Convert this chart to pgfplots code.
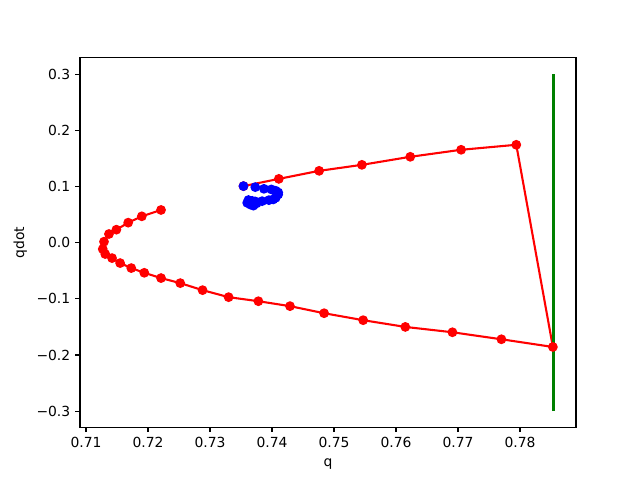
\documentclass[border=0pt]{standalone}
\usepackage{fontspec}
\setmainfont{DejaVu Sans}
\usepackage{pgfplots}
\pgfplotsset{compat=1.18}

\definecolor{mplgreen}{rgb}{0,0.5,0}

\begin{document}
\begin{tikzpicture}
% figure box: 6.4in x 4.8in, axes at matplotlib default position
\path[use as bounding box] (-57.6pt,-38.02pt) rectangle (403.2pt,307.58pt);
\begin{axis}[
  at={(0,0)}, anchor=south west,
  scale only axis,
  width=357.12pt, height=266.11pt,
  xmin=0.70903, xmax=0.78903,
  ymin=-0.3286, ymax=0.3297,
  xtick={0.71,0.72,0.73,0.74,0.75,0.76,0.77,0.78},
  xticklabels={0.71,0.72,0.73,0.74,0.75,0.76,0.77,0.78},
  ytick={-0.3,-0.2,-0.1,0,0.1,0.2,0.3},
  yticklabels={−0.3,−0.2,−0.1,0.0,0.1,0.2,0.3},
  tick align=outside,
  major tick length=3.5pt,
  every tick/.style={black, line width=0.8pt},
  axis line style={line width=0.8pt},
  xtick pos=bottom, ytick pos=left,
  tick label style={font=\fontsize{10}{12}\selectfont},
  label style={font=\fontsize{10}{12}\selectfont},
  xlabel={q}, ylabel={qdot},
  xlabel style={yshift=-1pt},
  ylabel style={yshift=0pt},
  clip=false,
]
% trajectory (red)
\addplot[red, line width=1.5pt, mark=*, mark size=3pt, mark options={solid, fill=red, draw=red, line width=1pt}] coordinates {
  (0.7354, 0.1008)
  (0.7411, 0.1137)
  (0.7476, 0.1280)
  (0.7545, 0.1387)
  (0.7623, 0.1530)
  (0.7705, 0.1655)
  (0.7794, 0.1744)
  (0.7853, -0.1857)
  (0.7770, -0.1720)
  (0.7691, -0.1595)
  (0.7615, -0.1500)
  (0.7547, -0.1380)
  (0.7484, -0.1256)
  (0.7429, -0.1130)
  (0.7378, -0.1042)
  (0.7330, -0.0970)
  (0.7288, -0.0845)
  (0.7252, -0.0720)
  (0.7221, -0.0630)
  (0.7194, -0.0536)
  (0.7173, -0.0452)
  (0.7155, -0.0363)
  (0.7142, -0.0274)
  (0.7131, -0.0202)
  (0.7127, -0.0113)
  (0.7129, 0.0018)
  (0.7137, 0.0155)
  (0.7149, 0.0232)
  (0.7168, 0.0357)
  (0.7190, 0.0470)
  (0.7221, 0.0583)
};
% blue points
\addplot[only marks, mark=*, mark size=3pt, mark options={fill=blue, draw=blue, line width=1pt}] coordinates {
  (0.7354, 0.1008)
  (0.7373, 0.0990)
  (0.7387, 0.0960)
  (0.7399, 0.0949)
  (0.7406, 0.0925)
  (0.7410, 0.0895)
  (0.7410, 0.0860)
  (0.7406, 0.0800)
  (0.7402, 0.0771)
  (0.7395, 0.0758)
  (0.7384, 0.0740)
  (0.7373, 0.0735)
  (0.7362, 0.0760)
  (0.7360, 0.0710)
  (0.7365, 0.0680)
  (0.7370, 0.0660)
  (0.7375, 0.0700)
  (0.7368, 0.0745)
};
% vertical line (green)
\addplot[mplgreen, line width=1.5pt] coordinates {
  (0.7854, -0.3)
  (0.7854, 0.3)
};
\end{axis}
\end{tikzpicture}
\end{document}
